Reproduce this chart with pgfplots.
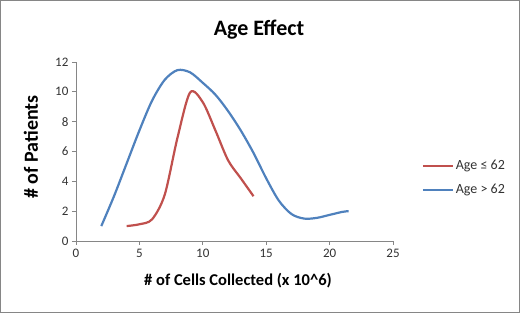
\documentclass[border=0pt]{standalone}
\usepackage{pgfplots}
\pgfplotsset{compat=1.18}
\usepackage{fontspec}
\setmainfont{Carlito}
\definecolor{exred}{RGB}{192,80,77}
\definecolor{exblue}{RGB}{79,129,189}
\definecolor{axgray}{RGB}{134,134,134}
\definecolor{txt}{RGB}{50,50,50}
\begin{document}
\begin{tikzpicture}
\draw[axgray, line width=0.8pt] (0.5pt,0.5pt) rectangle (519.5pt,312.5pt);
\node[font=\bfseries\fontsize{22}{24}\selectfont] at (259pt,283pt) {Age Effect};
\node[font=\bfseries\fontsize{20}{22}\selectfont, rotate=90] at (31pt,166pt) {\# of Patients};
\node[font=\bfseries\fontsize{16.5}{18}\selectfont] at (238pt,32pt) {\# of Cells Collected (x 10\textasciicircum 6)};
\begin{axis}[
  at={(76pt,72pt)}, anchor=south west,
  scale only axis, width=317pt, height=179pt,
  xmin=0, xmax=25, ymin=0, ymax=12,
  xtick={0,5,...,25}, ytick={0,2,...,12},
  axis lines*=left,
  axis line style={axgray, line width=0.8pt, -},
  tick style={axgray, line width=0.8pt},
  tick align=outside, major tick length=4pt,
  ticklabel style={font=\fontsize{13}{15}\selectfont, text=txt},
  /pgf/number format/assume math mode=true,
  xticklabel shift=1pt,
  clip=false,
  legend style={at={(1.09,0.352)}, anchor=west, draw=none, fill=none, inner sep=0pt,
    font=\fontsize{14}{16}\selectfont, text=txt, row sep=9pt},
  legend cell align=left,
  legend image code/.code={\draw[#1, line width=2pt] (-2pt,0pt) -- (28pt,0pt);},
]
\addplot[exred, line width=2.2pt, smooth, tension=0.5] coordinates {
 (4,1) (5,1.12) (6,1.45) (7,3.1) (8,6.9) (9,9.95) (10,9.3) (11,7.4) (12,5.4) (13,4.2) (14,3)};
\addlegendentry{Age ≤ 62}
\addplot[exblue, line width=2.2pt, smooth, tension=0.5] coordinates {
 (2,1) (3,3.0) (4,5.2) (5,7.4) (6,9.4) (7,10.8) (8,11.45) (9,11.3) (10,10.6) (11,9.8) (12,8.7) (13,7.4) (14,5.9) (15,4.2) (16,2.7) (17,1.8) (18,1.5) (19,1.55) (20,1.75) (21,1.95) (21.5,2)};
\addlegendentry{Age > 62}
\end{axis}
\end{tikzpicture}
\end{document}
